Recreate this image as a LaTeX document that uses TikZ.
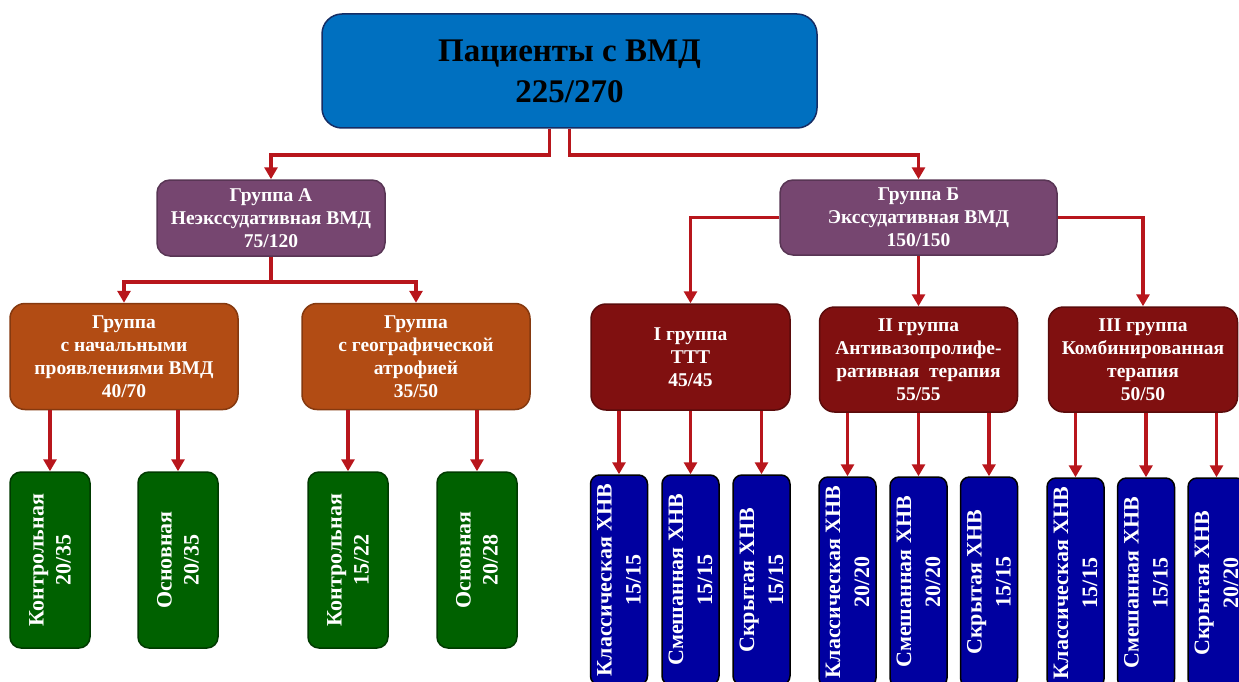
\documentclass[tikz,border=0pt]{standalone}
\usepackage{fontspec}
\setmainfont{Liberation Serif}
\usepackage{tikz}
\usetikzlibrary{arrows.meta, positioning, calc}

\definecolor{topblue}{RGB}{0,112,192}
\definecolor{topline}{RGB}{22,45,100}
\definecolor{grpurple}{RGB}{118,70,112}
\definecolor{grorange}{RGB}{178,76,20}
\definecolor{grred}{RGB}{128,16,16}
\definecolor{grgreen}{RGB}{0,97,0}
\definecolor{grblue}{RGB}{0,0,160}
\definecolor{linkred}{RGB}{184,22,28}

\tikzset{
    box/.style={draw, line width=1.5pt, align=center, text=white, inner sep=0pt, font=\bfseries},
    topbox/.style={box, fill=topblue, draw=topline, text=black, rounded corners=20pt,
        minimum width=495pt, minimum height=114pt, font=\bfseries\fontsize{33}{41}\selectfont},
    groupbox/.style={box, fill=grpurple, draw=grpurple!75!black, rounded corners=13pt,
        font=\bfseries\fontsize{19.5}{23}\selectfont},
    subbox/.style={box, rounded corners=15pt, minimum height=106pt,
        font=\bfseries\fontsize{19.5}{23}\selectfont},
    greenbox/.style={box, fill=grgreen, draw=grgreen!60!black, rounded corners=11pt, rotate=90,
        minimum width=176pt, minimum height=80pt, font=\bfseries\fontsize{22}{27}\selectfont},
    bluebox/.style={box, fill=grblue, draw=black, rounded corners=9pt, rotate=90,
        minimum width=210pt, minimum height=57pt, font=\bfseries\fontsize{22}{29}\selectfont},
    link/.style={draw=linkred, line width=3.5pt, -{Triangle[length=12pt,width=13pt]}},
}

\begin{document}
\begin{tikzpicture}[x=1pt, y=-1pt]
    \useasboundingbox (0,0) rectangle (1239,682);
    \clip (0,0) rectangle (1239,682);

    % Top level
    \node[topbox] (top) at (569.5, 71) {Пациенты с ВМД\\225/270};

    % Groups A and B
    \node[groupbox, minimum width=228pt, minimum height=76pt] (grA) at (271, 218)
        {Группа А\\Неэкссудативная ВМД\\75/120};
    \node[groupbox, minimum width=277pt, minimum height=75pt] (grB) at (918.5, 217.5)
        {Группа Б\\Экссудативная ВМД\\150/150};

    % Subgroups of A
    \node[subbox, fill=grorange, draw=grorange!75!black, minimum width=228pt] (orA) at (124, 356.5)
        {Группа\\с начальными\\проявлениями ВМД\\40/70};
    \node[subbox, fill=grorange, draw=grorange!75!black, minimum width=228pt] (orB) at (416, 356.5)
        {Группа\\с географической\\атрофией\\35/50};

    % Subgroups of B
    \node[subbox, fill=grred, draw=grred!70!black, minimum width=199pt] (gI) at (690.5, 357)
        {I группа\\ТТТ\\45/45};
    \node[subbox, fill=grred, draw=grred!70!black, minimum width=198pt, minimum height=105pt] (gII) at (918.5, 359.5)
        {II группа\\Антивазопролифе-\\ративная\ \ терапия\\55/55};
    \node[subbox, fill=grred, draw=grred!70!black, minimum width=189pt, minimum height=105pt] (gIII) at (1143, 359.5)
        {III группа\\Комбинированная\\терапия\\50/50};

    % Green boxes
    \node[greenbox] (ctlA) at (50, 560) {Контрольная\\20/35};
    \node[greenbox] (mainA) at (178, 560) {Основная\\20/35};
    \node[greenbox] (ctlB) at (348, 560) {Контрольная\\15/22};
    \node[greenbox] (mainB) at (477, 560) {Основная\\20/28};

    % Blue boxes
    \node[bluebox] (clI) at (619, 580) {Классическая ХНВ\\15/15};
    \node[bluebox] (mxI) at (690.5, 580) {Смешанная ХНВ\\15/15};
    \node[bluebox] (hdI) at (761.5, 580) {Скрытая ХНВ\\15/15};
    \node[bluebox] (clII) at (847.5, 582) {Классическая ХНВ\\20/20};
    \node[bluebox] (mxII) at (918.5, 582) {Смешанная ХНВ\\20/20};
    \node[bluebox] (hdII) at (989, 582) {Скрытая ХНВ\\15/15};
    \node[bluebox] (clIII) at (1075.5, 583) {Классическая ХНВ\\15/15};
    \node[bluebox] (mxIII) at (1146, 583) {Смешанная ХНВ\\15/15};
    \node[bluebox] (hdIII) at (1216.5, 583) {Скрытая ХНВ\\20/20};

    % Connectors
    \draw[link] ([xshift=-20pt]top.south) -- ++(0,26) -| (grA.north);
    \draw[link] (top.south) -- ++(0,26) -| (grB.north);

    \draw[link] (grA.south) -- ++(0,25) -| (orA.north);
    \draw[link] (grA.south) -- ++(0,25) -| (orB.north);

    \draw[link] (grB.west) -| (gI.north);
    \draw[link] (grB.south) -- (gII.north);
    \draw[link] (grB.east) -| (gIII.north);

    \foreach \from/\to in {orA/ctlA, orA/mainA, orB/ctlB, orB/mainB,
                           gI/clI, gI/mxI, gI/hdI, gII/clII, gII/mxII, gII/hdII,
                           gIII/clIII, gIII/mxIII, gIII/hdIII}
        \draw[link] (\from.south -| \to.east) -- (\to.east);
\end{tikzpicture}
\end{document}
